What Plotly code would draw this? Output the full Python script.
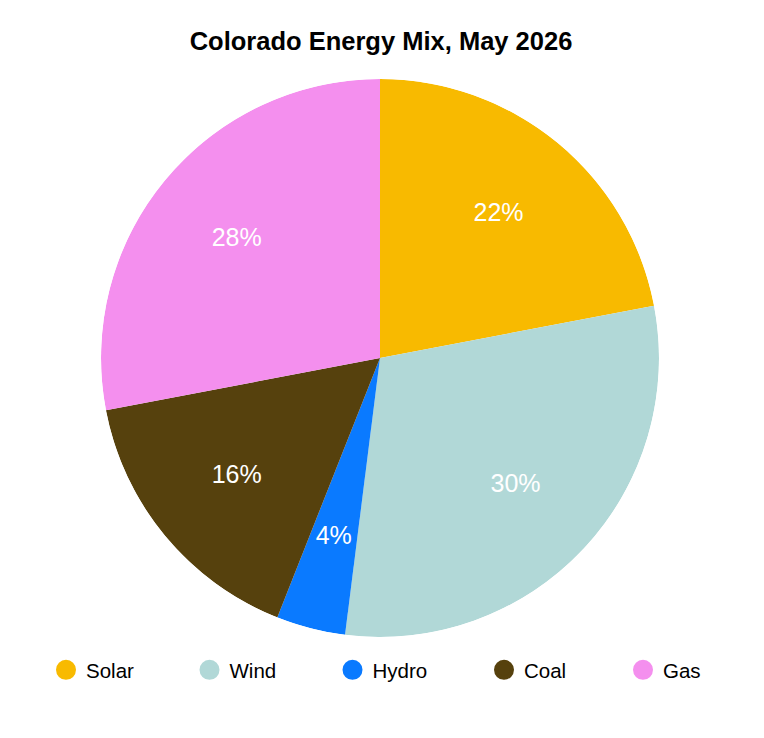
import plotly.graph_objects as go

categories = ["Solar", "Wind", "Hydro", "Coal", "Gas"]
values = [22, 30, 4, 16, 28]
colors = ["#F8BA00", "#B1D8D7", "#0A7AFF", "#56410D", "#F48FEE"]

# page body has an 8px margin; figure is sized to fit the 764x738 window
OFF = 8
W, H = 764 - 2 * OFF, 738 - 2 * OFF
FONT = "Liberation Sans, Arial, Helvetica, sans-serif"


def px_x(x):
    return (x - OFF) / W


def px_y(y):
    return 1 - (y - OFF) / H


domain = dict(x=[px_x(101), px_x(659)], y=[px_y(637), px_y(79)])

# slice geometry derived from the values
total = sum(values)
spans = [v / total * 360 for v in values]
mid_angles, acc = [], 0
for s in spans:
    mid_angles.append(acc + s / 2)
    acc += s
pct_text = [f"{round(v / total * 100)}%" for v in values]

fig = go.Figure()
fig.add_trace(go.Barpolar(
    r=[1] * len(values), theta=mid_angles, width=spans,
    marker=dict(color=colors, line=dict(width=0)),
    customdata=list(zip(categories, pct_text)),
    hovertemplate="%{customdata[0]}: %{customdata[1]}<extra></extra>",
    showlegend=False,
))
# percentage labels at 2/3 of the radius, on each slice's middle angle
fig.add_trace(go.Scatterpolar(
    r=[2 / 3] * len(values), theta=mid_angles, mode="text", text=pct_text,
    textfont=dict(color="white", size=25, family=FONT),
    showlegend=False, hoverinfo="skip",
))

legend_marker_x = [66, 209.5, 352.5, 504, 643]
legend_cfg = {}
for i, (c, col) in enumerate(zip(categories, colors)):
    key = "legend" if i == 0 else f"legend{i + 1}"
    fig.add_trace(go.Scatter(
        x=[None], y=[None], mode="markers", name=c, legend=key,
        marker=dict(symbol="circle", size=16, color=col, line=dict(width=4, color=col)),
    ))
    legend_cfg[key] = dict(
        orientation="h", x=px_x(legend_marker_x[i] - 20), xanchor="left",
        y=px_y(670), yanchor="middle", itemsizing="trace",
        bgcolor="rgba(0,0,0,0)", font=dict(size=20.5, color="black", family=FONT),
    )

fig.update_layout(
    width=W, height=H,
    margin=dict(l=0, r=0, t=0, b=0),
    paper_bgcolor="white", plot_bgcolor="white",
    title=dict(text="<b>Colorado Energy Mix, May 2026</b>", x=px_x(381), xanchor="center",
               y=px_y(41), yanchor="middle",
               font=dict(size=25.5, color="black", family=FONT)),
    xaxis=dict(visible=False), yaxis=dict(visible=False),
    polar=dict(
        domain=domain, bgcolor="rgba(0,0,0,0)", bargap=0,
        radialaxis=dict(visible=False, range=[0, 1]),
        angularaxis=dict(visible=False, rotation=90, direction="clockwise"),
    ),
    **legend_cfg,
)
fig.write_html("out.html")
